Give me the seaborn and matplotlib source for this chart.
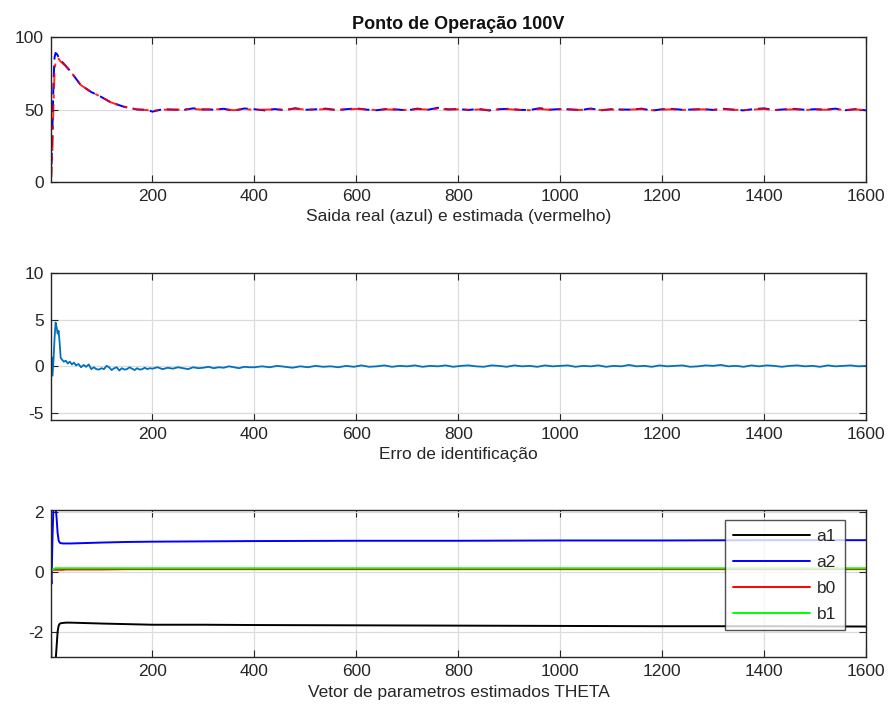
import numpy as np
import pandas as pd
import matplotlib
matplotlib.use("Agg")
import matplotlib.pyplot as plt
import seaborn as sns

# ---------------- data ----------------
k_top = [0, 2, 4, 6, 8, 10, 13, 16, 20, 30, 40, 59, 80, 98, 118, 143, 170, 190,
         200, 220, 240, 260, 280, 300, 320, 340, 360, 380, 400, 420, 440, 460, 480,
         500, 520, 540, 560, 580, 600, 620, 640, 660, 680, 700, 720, 740, 760, 780,
         800, 820, 840, 860, 880, 900, 920, 940, 960, 980, 1000, 1020, 1040, 1060,
         1080, 1100, 1120, 1140, 1160, 1180, 1200, 1220, 1240, 1260, 1280, 1300,
         1320, 1340, 1360, 1380, 1400, 1420, 1440, 1460, 1480, 1500, 1520, 1540,
         1560, 1580, 1600]
y_real = [0, 12, 40, 70, 86, 89, 88, 86, 84, 80, 76, 67, 62, 59, 55, 52, 50, 49.8,
          48.5, 50.2, 50.0, 49.6, 50.8, 50.1, 49.9, 50.5, 49.2, 50.7, 50.2, 49.4,
          50.3, 49.5, 50.9, 49.8, 50.1, 50.6, 49.7, 50.2, 50.8, 49.9, 49.5, 50.4,
          50.0, 49.4, 50.6, 49.8, 51.2, 50.1, 50.3, 49.7, 50.4, 49.3, 50.2, 50.5,
          49.8, 49.6, 50.9, 49.9, 50.3, 50.1, 49.6, 50.7, 49.4, 50.2, 50.0, 49.9,
          50.6, 49.2, 50.2, 50.4, 49.8, 50.0, 50.3, 49.7, 50.5, 49.9, 49.4, 50.3,
          50.8, 49.6, 50.1, 50.4, 49.8, 50.2, 49.9, 50.6, 49.5, 50.3, 49.4]
y_est = [0, 5, 25, 55, 76, 83, 85, 85, 83, 80, 76, 67, 62, 59, 55, 52, 50, 49.6,
         49.0, 50.0, 49.7, 50.2, 50.4, 49.8, 50.3, 50.0, 49.5, 50.4, 49.7, 49.9,
         50.1, 49.8, 50.5, 50.0, 49.9, 50.3, 49.6, 50.0, 50.4, 50.1, 49.6, 50.1,
         49.8, 49.7, 50.2, 50.0, 50.5, 49.9, 50.1, 49.8, 50.0, 49.6, 50.1, 50.2,
         49.7, 49.5, 50.3, 49.8, 50.1, 49.9, 49.7, 50.3, 49.6, 50.0, 49.8, 50.0,
         50.2, 49.5, 49.9, 50.1, 49.7, 50.0, 50.1, 49.8, 50.2, 49.8, 49.6, 50.0,
         50.3, 49.7, 49.9, 50.1, 49.7, 50.0, 49.8, 50.2, 49.7, 50.0, 49.7]

k_err = [0, 2, 4, 6, 8, 10, 12, 14, 16, 18, 20, 23, 26, 30, 34, 38, 42, 46, 50,
         55, 60, 65, 70, 75, 80, 85, 90, 95, 100, 105, 110, 115, 120, 125, 130,
         135, 140, 145, 150, 155, 160, 165, 170, 175, 180, 185, 190, 195, 200,
         210, 220, 230, 240, 250, 260, 270, 280, 290, 300, 310, 320, 330, 340,
         350, 360, 370, 380, 390, 400, 415, 430, 445, 460, 475, 490, 505, 520,
         535, 550, 565, 580, 595, 610, 625, 640, 655, 670, 685, 700, 715, 730,
         745, 760, 775, 790, 805, 820, 835, 850, 865, 880, 895, 910, 925, 940,
         955, 970, 985, 1000, 1015, 1030, 1045, 1060, 1075, 1090, 1105, 1120,
         1135, 1150, 1165, 1180, 1195, 1210, 1225, 1240, 1255, 1270, 1285, 1300,
         1315, 1330, 1345, 1360, 1375, 1390, 1405, 1420, 1435, 1450, 1465, 1480,
         1495, 1510, 1525, 1540, 1555, 1570, 1585, 1600]
e_val = [0.0, 1.0, -1.0, 0.8, 3.0, 4.7, 4.2, 3.5, 3.8, 2.5, 0.9, 0.7, 0.5, 0.6,
         0.3, 0.5, 0.2, 0.4, 0.1, 0.25, -0.1, 0.15, -0.05, 0.2, -0.3, -0.1,
         -0.3, -0.35, -0.2, -0.3, 0.05, -0.1, -0.4, -0.2, -0.1, -0.45, -0.2,
         -0.35, -0.3, -0.1, -0.25, -0.4, -0.2, -0.35, -0.3, -0.15, -0.3, -0.2,
         -0.25, -0.1, -0.3, -0.15, -0.25, -0.1, -0.2, -0.3, -0.1, -0.2, -0.15,
         -0.05, -0.2, -0.1, -0.15, 0.0, -0.1, -0.2, -0.05, -0.1, -0.1, 0.0,
         -0.1, 0.05, -0.05, -0.15, 0.0, -0.1, 0.05, -0.05, 0.0, -0.1, 0.05,
         -0.05, 0.1, -0.05, 0.0, 0.1, -0.05, 0.05, 0.0, 0.1, -0.05, 0.05, 0.0,
         0.1, -0.05, 0.05, 0.1, 0.0, -0.05, 0.1, 0.05, -0.05, 0.1, 0.0, 0.05,
         -0.05, 0.1, 0.0, 0.05, 0.1, -0.05, 0.05, 0.0, 0.1, -0.05, 0.05, 0.0,
         0.15, 0.0, 0.05, -0.05, 0.1, 0.0, 0.05, 0.1, -0.05, 0.0, 0.1, 0.05,
         0.15, 0.0, 0.05, -0.05, 0.1, 0.0, 0.1, 0.05, -0.05, 0.05, 0.1, 0.0,
         0.05, -0.05, 0.1, 0.0, 0.05, 0.1, 0.0, 0.05]

k_par = [0, 2, 4, 6, 8, 10, 12, 14, 16, 18, 20, 25, 30, 40, 60, 100, 150, 200,
         300, 400, 600, 800, 1000, 1200, 1400, 1600]
a1 = [0.0, -3.5, -4.0, -3.8, -3.4, -3.0, -2.5, -2.0, -1.8, -1.74, -1.72, -1.71,
      -1.70, -1.70, -1.71, -1.73, -1.75, -1.77, -1.77, -1.78, -1.79, -1.80, -1.81,
      -1.82, -1.82, -1.83]
a2 = [0.0, -0.4, 1.2, 2.3, 2.4, 2.2, 1.8, 1.3, 1.05, 0.98, 0.96, 0.95, 0.95,
      0.95, 0.96, 0.98, 1.0, 1.01, 1.02, 1.03, 1.04, 1.04, 1.05, 1.05, 1.06, 1.06]
b0 = [0.0, 0.03, 0.06, 0.07, 0.07, 0.07, 0.07, 0.07, 0.07, 0.07, 0.07, 0.07,
      0.08, 0.08, 0.08, 0.08, 0.09, 0.09, 0.09, 0.09, 0.09, 0.09, 0.09, 0.09,
      0.09, 0.09]
b1 = [0.0, 0.05, 0.08, 0.10, 0.11, 0.12, 0.12, 0.12, 0.12, 0.12, 0.12, 0.12,
      0.12, 0.12, 0.12, 0.12, 0.12, 0.12, 0.12, 0.12, 0.12, 0.12, 0.12, 0.12,
      0.12, 0.12]

x_ticks = [200, 400, 600, 800, 1000, 1200, 1400, 1600]

# ---------------- plotting ----------------
sns.set_theme(style="white")
plt.rcParams["font.family"] = ["Liberation Sans", "DejaVu Sans"]
plt.rcParams["axes.unicode_minus"] = False

fig = plt.figure(figsize=(8.93, 7.22), dpi=100)
W, H = 893, 722
def ax_at(x0, y0, x1, y1):
    return fig.add_axes([x0 / W, 1 - y1 / H, (x1 - x0) / W, (y1 - y0) / H])

ax1 = ax_at(51, 37, 866, 182)
ax2 = ax_at(51, 273, 866, 420)
ax3 = ax_at(51, 510, 866, 657)

def style(ax, ylim, yticks, xlabel):
    ax.set_xlim(1, 1600)
    ax.set_ylim(*ylim)
    ax.set_xticks(x_ticks)
    ax.set_yticks(yticks)
    ax.set_yticklabels([str(t) for t in yticks])
    ax.grid(True, color="#dcdcdc", linewidth=0.9)
    ax.set_axisbelow(True)
    for s in ax.spines.values():
        s.set_color("#262626")
        s.set_linewidth(1.0)
        s.set_visible(True)
    ax.tick_params(direction="in", length=5, width=0.8, colors="#262626",
                   labelcolor="#262626", labelsize=12.5, top=True, right=True,
                   bottom=True, left=True, pad=5)
    ax.set_xlabel(xlabel, fontsize=12.5, color="#262626", labelpad=4)
    ax.set_ylabel("")

df_top = pd.DataFrame({"k": k_top, "real": y_real, "est": y_est})
sns.lineplot(data=df_top, x="k", y="real", ax=ax1, color="#0000ff",
             linewidth=1.4, linestyle=(0, (6, 3)))
sns.lineplot(data=df_top, x="k", y="est", ax=ax1, color="#ff0000",
             linewidth=1.4, linestyle=(0, (8, 3, 2, 3)), alpha=0.85)
style(ax1, (0, 100), [0, 50, 100], "Saida real (azul) e estimada (vermelho)")
ax1.set_title("Ponto de Operação 100V", fontsize=13, fontweight="bold",
              color="#111111", pad=6)

df_err = pd.DataFrame({"k": k_err, "e": e_val})
sns.lineplot(data=df_err, x="k", y="e", ax=ax2, color="#0072BD", linewidth=1.3)
style(ax2, (-5.75, 10), [-5, 0, 5, 10], "Erro de identificação")

df_par = pd.DataFrame({"k": k_par, "a1": a1, "a2": a2, "b0": b0, "b1": b1})
df_long = df_par.melt(id_vars="k", var_name="param", value_name="v")
sns.lineplot(data=df_long, x="k", y="v", hue="param", ax=ax3,
             palette={"a1": "#000000", "a2": "#0000ff", "b0": "#ff0000", "b1": "#00ff00"},
             linewidth=1.4)
style(ax3, (-2.85, 2.07), [-2, 0, 2], "Vetor de parametros estimados THETA")
leg = ax3.legend(loc="upper right", bbox_to_anchor=(0.974, 0.932), borderaxespad=0,
                 fontsize=12.5, frameon=True, fancybox=False, edgecolor="#262626",
                 handlelength=4.4, handletextpad=0.4, borderpad=0.5,
                 labelspacing=0.62, markerfirst=True)
leg.get_frame().set_linewidth(1.0)
for t in leg.get_texts():
    t.set_color("#262626")

fig.savefig("out.png", dpi=100, facecolor="white")
